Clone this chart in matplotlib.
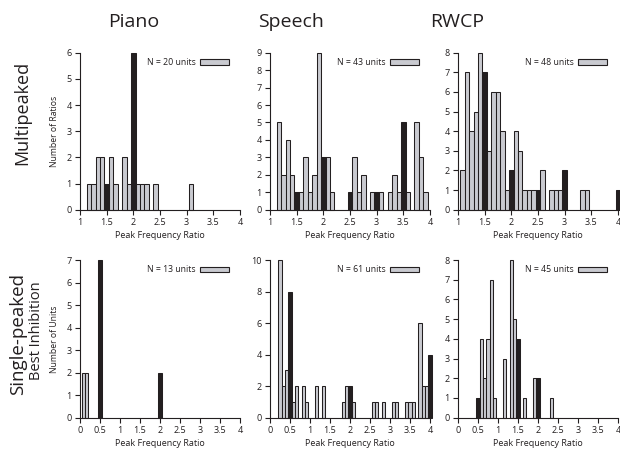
import matplotlib
matplotlib.use("Agg")
import matplotlib.pyplot as plt
from matplotlib.patches import Rectangle

plt.rcParams['font.family'] = ['Open Sans', 'DejaVu Sans']

# ---------------- data (bin centres of width 1/12, counts) ----------------
col_titles = ["Piano", "Speech", "RWCP"]
legend_n_top = [20, 43, 48]
legend_n_bot = [13, 61, 45]

# Multipeaked (top row) - grey = non-harmonic bins, black = harmonic bins
piano_top_gray_x = [1.167, 1.25, 1.333, 1.417, 1.583, 1.667, 1.833, 1.917,
                    2.083, 2.167, 2.25, 2.417, 3.083]
piano_top_gray_y = [1, 1, 2, 2, 2, 1, 2, 1, 1, 1, 1, 1, 1]
piano_top_black_x = [1.5, 2.0]
piano_top_black_y = [1, 6]

speech_top_gray_x = [1.167, 1.25, 1.333, 1.417, 1.583, 1.667, 1.75, 1.833,
                     1.917, 2.083, 2.167, 2.583, 2.667, 2.75, 2.917, 3.083,
                     3.25, 3.333, 3.417, 3.583, 3.75, 3.833, 3.917]
speech_top_gray_y = [5, 2, 4, 2, 1, 3, 1, 2, 9, 3, 1, 3, 1, 2, 1, 1,
                     1, 2, 1, 1, 5, 3, 1]
speech_top_black_x = [1.5, 2.0, 2.5, 3.0, 3.5]
speech_top_black_y = [1, 3, 1, 1, 5]

rwcp_top_gray_x = [1.083, 1.167, 1.25, 1.333, 1.417, 1.583, 1.667, 1.75,
                   1.833, 1.917, 2.083, 2.167, 2.25, 2.333, 2.417, 2.583,
                   2.75, 2.833, 2.917, 3.333, 3.417]
rwcp_top_gray_y = [2, 7, 4, 5, 8, 3, 6, 6, 4, 1, 4, 3, 1, 1, 1, 2,
                   1, 1, 1, 1, 1]
rwcp_top_black_x = [1.5, 2.0, 2.5, 3.0, 4.0]
rwcp_top_black_y = [7, 2, 1, 2, 1]

# Single-peaked / best inhibition (bottom row)
piano_bot_gray_x = [0.083, 0.167]
piano_bot_gray_y = [2, 2]
piano_bot_black_x = [0.5, 2.0]
piano_bot_black_y = [7, 2]

speech_bot_gray_x = [0.25, 0.333, 0.417, 0.583, 0.667, 0.833, 0.917, 1.167,
                     1.333, 1.833, 1.917, 2.083, 2.583, 2.667, 2.833, 3.083,
                     3.167, 3.417, 3.5, 3.583, 3.75, 3.833, 3.917]
speech_bot_gray_y = [10, 2, 3, 1, 2, 2, 1, 2, 2, 1, 2, 1, 1, 1, 1, 1,
                     1, 1, 1, 1, 6, 2, 2]
speech_bot_black_x = [0.5, 2.0, 4.0]
speech_bot_black_y = [8, 2, 4]

rwcp_bot_gray_x = [0.583, 0.667, 0.75, 0.833, 0.917, 1.167, 1.333, 1.417,
                   1.667, 1.917, 2.333]
rwcp_bot_gray_y = [4, 2, 4, 7, 1, 3, 8, 5, 1, 2, 1]
rwcp_bot_black_x = [0.5, 1.5, 2.0]
rwcp_bot_black_y = [1, 4, 2]

top_xticks = [1, 1.5, 2, 2.5, 3, 3.5, 4]
top_xticklabels = ["1", "1.5", "2", "2.5", "3", "3.5", "4"]
bot_xticks = [0, 0.5, 1, 1.5, 2, 2.5, 3, 3.5, 4]
bot_xticklabels = ["0", "0.5", "1", "1.5", "2", "2.5", "3", "3.5", "4"]
top_ymax = [6, 9, 8]
bot_ymax = [7, 10, 8]
bot_ystep = [1, 2, 1]

# ---------------- style ----------------
GRAY = "#c9cad0"
BLACK = "#231f20"
BIN = 1 / 12
W, H = 620, 457

fig = plt.figure(figsize=(6.2, 4.57), dpi=100)


def add_ax(x0, x1, ytop, ybot):
    return fig.add_axes([x0 / W, 1 - ybot / H, (x1 - x0) / W, (ybot - ytop) / H])


col_x = [(80, 240), (270, 430), (458, 618)]
top_panels = [
    (piano_top_gray_x, piano_top_gray_y, piano_top_black_x, piano_top_black_y),
    (speech_top_gray_x, speech_top_gray_y, speech_top_black_x, speech_top_black_y),
    (rwcp_top_gray_x, rwcp_top_gray_y, rwcp_top_black_x, rwcp_top_black_y),
]
bot_panels = [
    (piano_bot_gray_x, piano_bot_gray_y, piano_bot_black_x, piano_bot_black_y),
    (speech_bot_gray_x, speech_bot_gray_y, speech_bot_black_x, speech_bot_black_y),
    (rwcp_bot_gray_x, rwcp_bot_gray_y, rwcp_bot_black_x, rwcp_bot_black_y),
]


def style_panel(ax, data, xlim, xticks, xticklabels, ymax, ystep, n):
    gx, gy, bx, by = data
    ax.bar(gx, gy, width=BIN, color=GRAY, edgecolor=BLACK, linewidth=0.75,
           clip_on=False, zorder=2)
    ax.bar(bx, by, width=BIN, color=BLACK, edgecolor=BLACK, linewidth=0.75,
           clip_on=False, zorder=3)
    ax.set_xlim(*xlim)
    ax.set_ylim(0, ymax)
    ax.set_xticks(xticks)
    ax.set_xticklabels(xticklabels)
    ax.set_yticks(list(range(0, ymax + 1, ystep)))
    for s in ["top", "right"]:
        ax.spines[s].set_visible(False)
    for s in ["left", "bottom"]:
        ax.spines[s].set_color(BLACK)
        ax.spines[s].set_linewidth(0.8)
    ax.tick_params(axis="both", direction="out", length=3.5, width=0.8,
                   color=BLACK, labelsize=6.5, labelcolor=BLACK, pad=2.5)
    ax.set_xlabel("Peak Frequency Ratio", fontsize=6.5, color=BLACK, labelpad=3)
    ax.patch.set_alpha(0)
    # legend: text + grey box
    ax.text(0.725, 0.94, f"N = {n} units", transform=ax.transAxes,
            ha="right", va="center", fontsize=6.3, color=BLACK)
    ax.add_patch(Rectangle((0.75, 0.922), 0.18, 0.035, transform=ax.transAxes,
                           facecolor=GRAY, edgecolor=BLACK, linewidth=0.8,
                           clip_on=False))


for i in range(3):
    ax = add_ax(col_x[i][0], col_x[i][1], 52.7, 209.7)
    style_panel(ax, top_panels[i], (1, 4), top_xticks, top_xticklabels,
                top_ymax[i], 1, legend_n_top[i])
    if i == 0:
        ax.set_ylabel("Number of Ratios", fontsize=6.2, color=BLACK, labelpad=5)

for i in range(3):
    ax = add_ax(col_x[i][0], col_x[i][1], 260, 417.7)
    style_panel(ax, bot_panels[i], (0, 4), bot_xticks, bot_xticklabels,
                bot_ymax[i], bot_ystep[i], legend_n_bot[i])
    if i == 0:
        ax.set_ylabel("Number of Units", fontsize=6.2, color=BLACK, labelpad=5)

title_x = [134, 291, 457]
for t, x in zip(col_titles, title_x):
    fig.text(x / W, 1 - 22 / H, t, ha="center", va="center", fontsize=14,
             color=BLACK)

fig.text(22 / W, 1 - 113 / H, "Multipeaked", rotation=90, ha="center",
         va="center", fontsize=13, color=BLACK)
fig.text(18 / W, 1 - 334 / H, "Single-peaked", rotation=90, ha="center",
         va="center", fontsize=13.5, color=BLACK)
fig.text(37 / W, 1 - 331 / H, "Best Inhibition", rotation=90, ha="center",
         va="center", fontsize=10.5, color=BLACK)

fig.savefig("out.png", dpi=100)
